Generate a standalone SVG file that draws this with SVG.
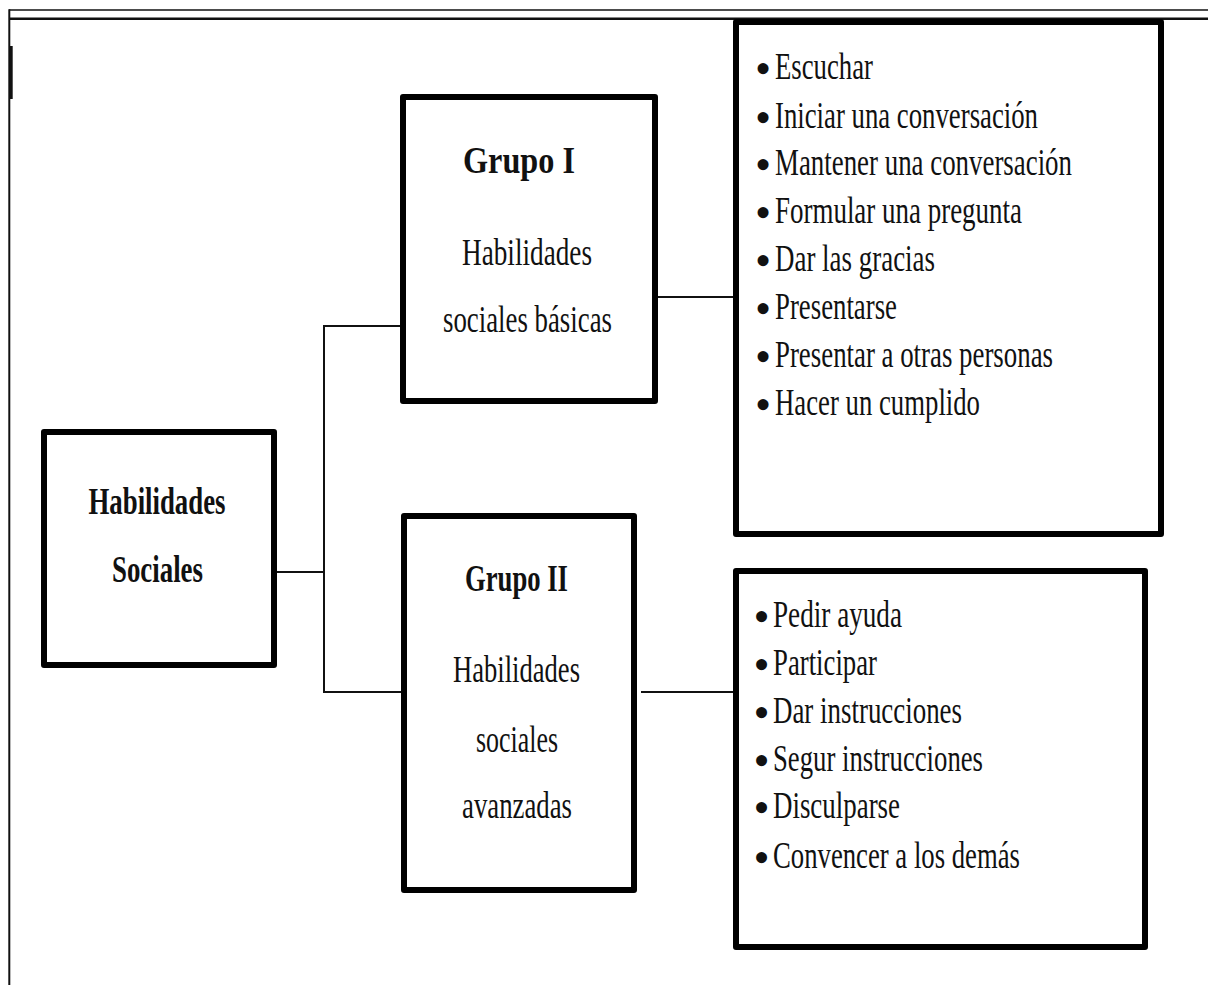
<svg xmlns="http://www.w3.org/2000/svg" width="1208" height="985" viewBox="0 0 1208 985" font-family="'Liberation Serif','Times New Roman',serif">
<style>
.frame{stroke:#111;fill:none}
.box{fill:#fff;stroke:#000;stroke-width:6;stroke-linejoin:round}
.con{stroke:#111;stroke-width:2;fill:none}
.t{font-family:"Liberation Serif","Times New Roman",serif;font-size:37px;fill:#111}
.b{font-weight:bold}
.c{text-anchor:middle}
.bu{font-size:46px}
</style>
<rect width="1208" height="985" fill="#fff"/>
<g id="frame">
<line class="frame" x1="9" y1="10" x2="1208" y2="10" stroke-width="1.6"/>
<line class="frame" x1="9" y1="18.7" x2="1208" y2="18.7" stroke-width="2.4"/>
<line class="frame" x1="9.3" y1="9.3" x2="9.3" y2="985" stroke-width="2"/>
<line class="frame" x1="11" y1="46" x2="11" y2="99" stroke-width="3.4"/>
</g>
<g id="connectors">
<polyline class="con" points="277,572 324,572"/>
<polyline class="con" points="400,326 324,326 324,692 401,692"/>
<polyline class="con" points="657,297 735,297"/>
<polyline class="con" points="641,692 735,692"/>
</g>
<g id="habilidades-sociales">
<rect class="box" x="44" y="432" width="230" height="233"/>
<text class="t b c" x="157" y="514" textLength="137" lengthAdjust="spacingAndGlyphs">Habilidades</text>
<text class="t b c" x="157.5" y="582" textLength="91" lengthAdjust="spacingAndGlyphs">Sociales</text>
</g>
<g id="grupo-1">
<rect class="box" x="403" y="97" width="252" height="304"/>
<text class="t b c" x="519" y="173" textLength="112" lengthAdjust="spacingAndGlyphs">Grupo I</text>
<text class="t c" x="527" y="265" textLength="130" lengthAdjust="spacingAndGlyphs">Habilidades</text>
<text class="t c" x="527.5" y="332" textLength="169" lengthAdjust="spacingAndGlyphs">sociales básicas</text>
</g>
<g id="grupo-2">
<rect class="box" x="404" y="516" width="230" height="374"/>
<text class="t b c" x="516.5" y="591" textLength="103" lengthAdjust="spacingAndGlyphs">Grupo II</text>
<text class="t c" x="516.5" y="682" textLength="127" lengthAdjust="spacingAndGlyphs">Habilidades</text>
<text class="t c" x="517" y="752" textLength="82" lengthAdjust="spacingAndGlyphs">sociales</text>
<text class="t c" x="517" y="818" textLength="110" lengthAdjust="spacingAndGlyphs">avanzadas</text>
</g>
<g id="lista-grupo-1">
<rect class="box" x="736" y="22" width="425" height="512"/>
<text class="t" x="755" y="84"><tspan class="bu">•</tspan><tspan x="775" y="79" textLength="98" lengthAdjust="spacingAndGlyphs">Escuchar</tspan></text>
<text class="t" x="755" y="133"><tspan class="bu">•</tspan><tspan x="775" y="128" textLength="263" lengthAdjust="spacingAndGlyphs">Iniciar una conversación</tspan></text>
<text class="t" x="755" y="180"><tspan class="bu">•</tspan><tspan x="775" y="175" textLength="297" lengthAdjust="spacingAndGlyphs">Mantener una conversación</tspan></text>
<text class="t" x="755" y="228"><tspan class="bu">•</tspan><tspan x="775" y="223" textLength="247" lengthAdjust="spacingAndGlyphs">Formular una pregunta</tspan></text>
<text class="t" x="755" y="276"><tspan class="bu">•</tspan><tspan x="775" y="271" textLength="160" lengthAdjust="spacingAndGlyphs">Dar las gracias</tspan></text>
<text class="t" x="755" y="324"><tspan class="bu">•</tspan><tspan x="775" y="319" textLength="122" lengthAdjust="spacingAndGlyphs">Presentarse</tspan></text>
<text class="t" x="755" y="372"><tspan class="bu">•</tspan><tspan x="775" y="367" textLength="278" lengthAdjust="spacingAndGlyphs">Presentar a otras personas</tspan></text>
<text class="t" x="755" y="420"><tspan class="bu">•</tspan><tspan x="775" y="415" textLength="205" lengthAdjust="spacingAndGlyphs">Hacer un cumplido</tspan></text>
</g>
<g id="lista-grupo-2">
<rect class="box" x="736" y="571" width="409" height="376"/>
<text class="t" x="753.5" y="632"><tspan class="bu">•</tspan><tspan x="773" y="627" textLength="129" lengthAdjust="spacingAndGlyphs">Pedir ayuda</tspan></text>
<text class="t" x="753.5" y="680"><tspan class="bu">•</tspan><tspan x="773" y="675" textLength="104" lengthAdjust="spacingAndGlyphs">Participar</tspan></text>
<text class="t" x="753.5" y="728"><tspan class="bu">•</tspan><tspan x="773" y="723" textLength="189" lengthAdjust="spacingAndGlyphs">Dar instrucciones</tspan></text>
<text class="t" x="753.5" y="776"><tspan class="bu">•</tspan><tspan x="773" y="771" textLength="210" lengthAdjust="spacingAndGlyphs">Segur instrucciones</tspan></text>
<text class="t" x="753.5" y="823"><tspan class="bu">•</tspan><tspan x="773" y="818" textLength="127" lengthAdjust="spacingAndGlyphs">Disculparse</tspan></text>
<text class="t" x="753.5" y="873"><tspan class="bu">•</tspan><tspan x="773" y="868" textLength="247" lengthAdjust="spacingAndGlyphs">Convencer a los demás</tspan></text>
</g>
</svg>
